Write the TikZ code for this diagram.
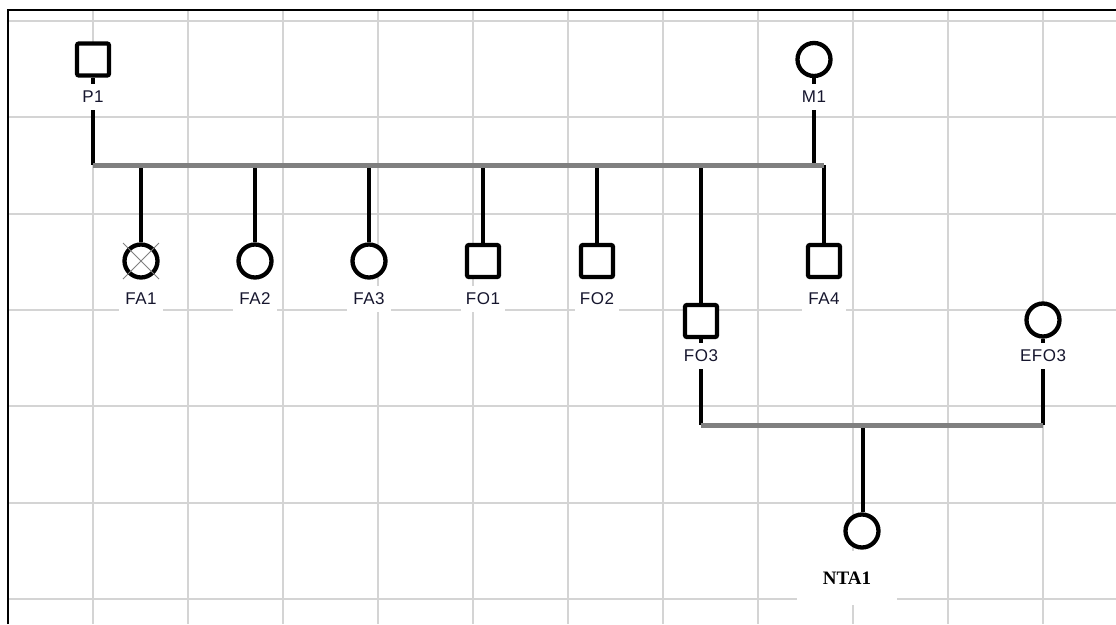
\documentclass[tikz,border=0pt]{standalone}
\usepackage{fontspec}
\setmainfont{Liberation Sans}
\newfontfamily\tagfont[LetterSpace=3]{Liberation Sans}
\newfontfamily\namefont{Liberation Serif}
\definecolor{gridgray}{RGB}{212,212,212}
\definecolor{unioncolor}{RGB}{128,128,128}
\definecolor{labelink}{RGB}{22,22,46}
\pgfdeclarelayer{gridlayer}
\pgfdeclarelayer{linelayer}
\pgfsetlayers{gridlayer,linelayer,main}
\begin{document}
\begin{tikzpicture}[x=1pt,y=-1pt,
  gridline/.style={draw=gridgray, line width=2pt},
  frameline/.style={draw=black, line width=2.5pt},
  male/.style={rectangle, draw=black, fill=white, line width=4.3pt,
    minimum size=32pt, inner sep=0pt, rounded corners=2pt},
  female/.style={circle, draw=black, fill=white, line width=4.3pt,
    minimum size=33pt, inner sep=0pt},
  tag/.style={fill=white, minimum width=44pt, minimum height=26pt,
    inner sep=0pt, text=labelink, font=\tagfont\fontsize{17}{17}\selectfont},
  bigtag/.style={fill=white, minimum width=100pt, minimum height=54pt,
    inner sep=0pt, text=black, font=\namefont\bfseries\fontsize{19}{19}\selectfont},
  descent/.style={draw=black, line width=4pt},
  union/.style={draw=unioncolor, line width=5pt},
  cross/.style={draw=gray, line width=1pt},
]
\useasboundingbox (0,0) rectangle (1116,624);

% background grid and frame
\begin{pgfonlayer}{gridlayer}
  \foreach \gx in {0,...,10} {
    \draw[gridline] (93+95*\gx,10) -- (93+95*\gx,624);
  }
  \foreach \gy in {0,...,6} {
    \draw[gridline] (8,21+96.333*\gy) -- (1116,21+96.333*\gy);
  }
  \draw[frameline] (8,624) -- (8,10) -- (1116,10);
\end{pgfonlayer}

% parents
\node[male]   (P1) at (93,59.5) {};
\node[tag]    (P1t) at (93,97) {P1};
\node[female] (M1) at (814,59.5) {};
\node[tag]    (M1t) at (814,97) {M1};

% children
\node[female] (FA1) at (141,261) {};
\node[tag]    (FA1t) at (141,299) {FA1};
\node[female] (FA2) at (255,261) {};
\node[tag]    (FA2t) at (255,299) {FA2};
\node[female] (FA3) at (369,261) {};
\node[tag]    (FA3t) at (369,299) {FA3};
\node[male]   (FO1) at (483,261) {};
\node[tag]    (FO1t) at (483,299) {FO1};
\node[male]   (FO2) at (597,261) {};
\node[tag]    (FO2t) at (597,299) {FO2};
\node[male]   (FO3) at (701,321) {};
\node[tag]    (FO3t) at (701,356) {FO3};
\node[male]   (FA4) at (824,261) {};
\node[tag]    (FA4t) at (824,299) {FA4};

% spouse and grandchild
\node[female] (EFO3) at (1043,320) {};
\node[tag, minimum width=50pt] (EFO3t) at (1043,356) {EFO3};
\node[female] (NTA1) at (862,531) {};
\node[bigtag] (NTA1t) at (847,578) {NTA1};

% deceased mark
\draw[cross] ([shift={(-18,-18)}]FA1.center) -- ([shift={(18,18)}]FA1.center);
\draw[cross] ([shift={(-18,18)}]FA1.center) -- ([shift={(18,-18)}]FA1.center);

% union bars
\coordinate (bar1L) at (93,165);
\coordinate (bar1R) at (824,165);
\coordinate (bar2L) at (701,425);
\coordinate (bar2R) at (1043,425);
\coordinate (bar2D) at (863,425);

\begin{pgfonlayer}{linelayer}
  \draw[descent] (P1.south) -- (bar1L);
  \draw[descent] (M1.south) -- (M1.south |- bar1L);
  \foreach \kid in {FA1,FA2,FA3,FO1,FO2,FO3,FA4} {
    \draw[descent] (\kid.north) -- (\kid.north |- bar1L);
  }
  \draw[union] (bar1L) -- (bar1R);
  \draw[descent] (FO3.south) -- (bar2L);
  \draw[descent] (EFO3.south) -- (bar2R);
  \draw[descent] (bar2D) -- (bar2D |- NTA1.north);
  \draw[union] (bar2L) -- (bar2R);
\end{pgfonlayer}
\end{tikzpicture}
\end{document}
